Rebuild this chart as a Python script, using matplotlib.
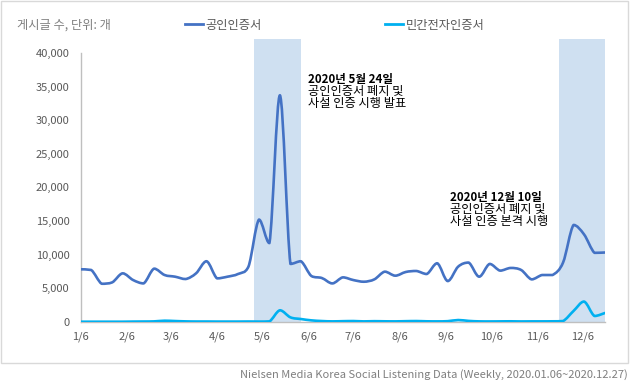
import matplotlib
matplotlib.use('Agg')
import numpy as np
import pandas as pd
import matplotlib.pyplot as plt
import matplotlib.dates as mdates
from matplotlib.path import Path
from matplotlib.patches import PathPatch, Rectangle
from matplotlib.lines import Line2D
from matplotlib.ticker import FuncFormatter, MultipleLocator

plt.rcParams['font.family'] = ['Noto Sans CJK KR', 'DejaVu Sans']

# weekly data, 2020.01.06 ~ 2020.12.21 (week start)
weeks = pd.date_range('2020-01-06', periods=51, freq='7D')
public_cert = [
    7800, 7700, 5650, 5850, 7200, 6200, 5700, 7900, 6950, 6700,
    6350, 7200, 9000, 6450, 6700, 7100, 8200, 15200, 11700, 33700,
    8600, 9000, 6800, 6500, 5700, 6600, 6200, 5950, 6300, 7450,
    6850, 7400, 7550, 7100, 8700, 6050, 8200, 8800, 6700, 8600,
    7600, 8000, 7700, 6300, 6950, 6950, 8800, 14400, 13000, 10250,
    10300]
private_cert = [
    0, 0, 0, 0, 0, 20, 30, 50, 150, 100,
    50, 30, 30, 20, 20, 20, 30, 20, 50, 1700,
    650, 400, 200, 100, 50, 80, 100, 50, 80, 60,
    50, 80, 100, 60, 50, 80, 250, 120, 50, 40,
    50, 60, 40, 50, 50, 60, 100, 1600, 3000, 850,
    1300]
series_names = ['공인인증서', '민간전자인증서']
series_colors = ['#4472C4', '#00B0F0']
highlight_spans = [('2020-05-01', '2020-06-01'), ('2020-11-20', '2020-12-22')]

notes = [
    ('2020년 5월 24일', '공인인증서 폐지 및', '사설 인증 시행 발표'),
    ('2020년 12월 10일', '공인인증서 폐지 및', '사설 인증 본격 시행'),
]


def smooth_path(x, y):
    # excel-like smoothed line: bezier segments, control points kept
    # inside each segment's value range so there is no overshoot
    x = np.asarray(x, dtype=float)
    y = np.asarray(y, dtype=float)
    n = len(x)
    verts = [(x[0], y[0])]
    codes = [Path.MOVETO]
    for i in range(n - 1):
        p0 = max(i - 1, 0)
        p3 = min(i + 2, n - 1)
        lo, hi = min(y[i], y[i + 1]), max(y[i], y[i + 1])
        c1x = x[i] + (x[i + 1] - x[p0]) / 6
        c1y = np.clip(y[i] + (y[i + 1] - y[p0]) / 6, lo, hi)
        c2x = x[i + 1] - (x[p3] - x[i]) / 6
        c2y = np.clip(y[i + 1] - (y[p3] - y[i]) / 6, lo, hi)
        verts += [(c1x, c1y), (c2x, c2y), (x[i + 1], y[i + 1])]
        codes += [Path.CURVE4] * 3
    return Path(verts, codes)


fig = plt.figure(figsize=(6.3, 3.91), dpi=100)
ax = fig.add_axes([0.1281, 0.1772, 0.8322, 0.7218])

xnum = mdates.date2num(weeks)

for start, end in highlight_spans:
    ax.axvspan(mdates.date2num(pd.Timestamp(start)), mdates.date2num(pd.Timestamp(end)),
               color='#CFE0F1', lw=0, zorder=0)

for vals, color in zip([public_cert, private_cert], series_colors):
    ax.add_patch(PathPatch(smooth_path(xnum, vals), fill=False, edgecolor=color,
                           lw=1.9, capstyle='round', joinstyle='round', zorder=3))

ax.set_xlim(xnum[0], xnum[-1])
ax.set_ylim(0, 42000)

ax.yaxis.set_major_locator(MultipleLocator(5000))
ax.yaxis.set_major_formatter(FuncFormatter(lambda v, p: f'{int(v):,}'))
ax.xaxis.set_major_locator(mdates.MonthLocator(bymonthday=6))
ax.xaxis.set_major_formatter(FuncFormatter(
    lambda v, p: f'{mdates.num2date(v).month}/{mdates.num2date(v).day}'))
ax.tick_params(axis='both', length=0, labelsize=8, labelcolor='#595959')
ax.tick_params(axis='y', pad=8)
ax.tick_params(axis='x', pad=7)

for s in ['top', 'right']:
    ax.spines[s].set_visible(False)
for s in ['left', 'bottom']:
    ax.spines[s].set_color('#BFBFBF')
    ax.spines[s].set_linewidth(1)
ax.spines['left'].set_bounds(0, 40000)
ax.set_facecolor('none')

# legend
fig.text(17 / 630, 1 - 25 / 391, '게시글 수, 단위: 개', fontsize=8.8, color='#7F7F7F', va='center')
for name, color, x0 in zip(series_names, series_colors, [185, 385]):
    h = Line2D([], [], color=color, lw=2)
    fig.legend(handles=[h], labels=[name], loc='center left',
               bbox_to_anchor=(x0 / 630, 1 - 25 / 391), frameon=False, fontsize=8.8,
               handlelength=1.5, handletextpad=0.2, borderpad=0, borderaxespad=0,
               labelcolor='#595959')

# annotations
for (head, l2, l3), (px, py) in zip(notes, [(308, 79), (450, 197)]):
    fig.text(px / 630, 1 - py / 391, head, fontsize=8.3, fontweight='bold', color='black', va='center')
    fig.text(px / 630, 1 - (py + 12.5) / 391, l2, fontsize=8.8, color='black', va='center')
    fig.text(px / 630, 1 - (py + 25) / 391, l3, fontsize=8.8, color='black', va='center')

# outer frame and source line
fig.add_artist(Rectangle((1 / 630, 28 / 391), 627 / 630, 362 / 391, transform=fig.transFigure,
                         fill=False, edgecolor='#D9D9D9', lw=1))
fig.text(628 / 630, 1 - 375 / 391,
         'Nielsen Media Korea Social Listening Data (Weekly, 2020.01.06~2020.12.27)',
         fontsize=8, color='#7F7F7F', ha='right', va='center')

fig.savefig('out.png', dpi=100)
